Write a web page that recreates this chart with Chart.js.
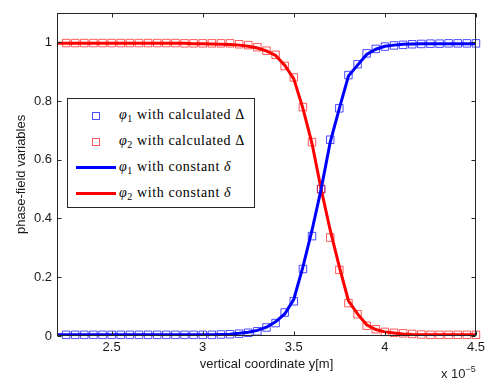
<!DOCTYPE html>
<html><head><meta charset="utf-8">
<script src="https://cdn.jsdelivr.net/npm/chart.js@4"></script>
<style>
html,body{margin:0;padding:0;background:#fff;}
#wrap{position:relative;width:489px;height:388px;overflow:hidden;}
canvas{display:block;}
.leg{position:absolute;left:67px;top:98px;width:186px;height:108px;border:1px solid #262626;background:#fff;font-family:'Liberation Serif','DejaVu Serif',serif;font-size:14px;letter-spacing:0.6px;color:#000;}
.row{position:absolute;left:0;height:20px;line-height:20px;white-space:nowrap;}
.sw{position:absolute;left:8px;width:40px;height:20px;}
.txt{position:absolute;left:51px;top:-1px;}
.mk{position:absolute;left:16px;top:6px;width:8px;height:8px;box-sizing:border-box;}
.ln{position:absolute;left:0;top:8px;width:40px;height:3px;}
i{font-style:italic;}
sub{font-size:10px;vertical-align:-3px;line-height:0;}
.mult{position:absolute;left:441px;top:366px;font-family:'Liberation Sans',Arial,sans-serif;font-size:13px;color:#262626;white-space:nowrap;}
.mult sup{font-size:9px;vertical-align:6px;line-height:0;}
</style></head>
<body>
<div id="wrap">
<canvas id="c" width="489" height="388"></canvas>
<div class="leg">
 <div class="row" style="top:7px"><div class="sw"><div class="mk" style="border:1px solid #4d4dff"></div></div><div class="txt"><i>φ</i><sub>1</sub> with calculated Δ</div></div>
 <div class="row" style="top:33px"><div class="sw"><div class="mk" style="border:1px solid #ff5a5a"></div></div><div class="txt"><i>φ</i><sub>2</sub> with calculated Δ</div></div>
 <div class="row" style="top:59px"><div class="sw"><div class="ln" style="background:#0000ff"></div></div><div class="txt"><i>φ</i><sub>1</sub> with constant <i>δ</i></div></div>
 <div class="row" style="top:85px"><div class="sw"><div class="ln" style="background:#ff0000"></div></div><div class="txt"><i>φ</i><sub>2</sub> with constant <i>δ</i></div></div>
</div>
<div class="mult">x 10<sup>−5</sup></div>
</div>
<script>
// x positions in units of 1e-5 m
const xMarkers = [2.25,2.3,2.35,2.4,2.45,2.5,2.55,2.6,2.65,2.7,2.75,2.8,2.85,2.9,2.95,3.0,3.05,
  3.1,3.15,3.2,3.25,3.3,3.35,3.4,3.45,3.5,3.55,3.6,3.65,3.7,3.75,3.8,3.85,3.9,3.95,4.0,4.05,4.1,4.15,4.2,4.25,4.3,4.35,4.4,4.45,4.5];
const xLines = [2.2,2.25,2.3,2.35,2.4,2.45,2.5,2.55,2.6,2.65,2.7,2.75,2.8,2.85,2.9,2.95,3.0,3.05,
  3.1,3.15,3.2,3.25,3.3,3.35,3.4,3.45,3.5,3.55,3.6,3.65,3.7,3.75,3.8,3.85,3.9,3.95,4.0,4.05,4.1,4.15,4.2,4.25,4.3,4.35,4.4,4.45,4.5];

const phi1Calc = [0.004,0.004,0.004,0.004,0.004,0.004,0.004,0.004,0.004,0.004,0.004,0.004,0.004,0.004,0.004,0.004,0.004,
  0.005,0.006,0.008,0.011,0.016,0.029,0.044,0.080,0.118,0.228,0.340,0.500,0.668,0.775,0.888,0.925,0.962,0.977,0.985,0.989,0.991,0.993,0.994,0.995,0.995,0.996,0.996,0.996,0.996];
const phi2Calc = [0.997,0.997,0.997,0.997,0.997,0.997,0.997,0.997,0.997,0.997,0.997,0.997,0.997,0.996,0.996,0.996,0.996,
  0.996,0.996,0.993,0.990,0.983,0.971,0.957,0.919,0.880,0.779,0.660,0.500,0.335,0.225,0.112,0.074,0.035,0.023,0.014,0.011,0.009,0.007,0.005,0.004,0.004,0.004,0.004,0.004,0.004];
const phi1Const = [0.004,0.004,0.004,0.004,0.004,0.004,0.004,0.004,0.004,0.004,0.004,0.004,0.004,0.004,0.004,0.004,0.004,0.004,
  0.005,0.006,0.009,0.013,0.019,0.030,0.048,0.075,0.125,0.235,0.360,0.500,0.660,0.775,0.885,0.922,0.958,0.976,0.986,0.990,0.993,0.994,0.995,0.995,0.995,0.995,0.995,0.995,0.995];
const phi2Const = [0.996,0.996,0.996,0.996,0.996,0.996,0.996,0.996,0.996,0.996,0.996,0.996,0.996,0.996,
  0.996,0.995,0.995,0.994,0.993,0.992,0.990,0.986,0.980,0.970,0.955,0.922,0.875,0.775,0.655,0.500,0.360,0.235,0.120,0.075,0.038,0.022,0.014,0.010,0.007,0.005,0.004,0.004,0.004,0.004,0.004,0.004,0.004];

const xTicks = [2.5,3,3.5,4,4.5];
const yTicks = [0,0.2,0.4,0.6,0.8,1];
const xTitle = 'vertical coordinate y[m]';
const yTitle = 'phase-field variables';

const AXIS = '#262626';
const toPts = (xs, ys) => xs.map((x,i)=>({x:x, y:ys[i]}));

const frame = {
  id:'frame',
  afterDraw(chart){
    const {ctx, chartArea:a, scales:{x,y}} = chart;
    ctx.save();
    ctx.strokeStyle = AXIS; ctx.lineWidth = 1;
    const L = Math.round(a.left)+0.5, R = Math.round(a.right)-0.5, T = Math.round(a.top)+0.5, B = Math.round(a.bottom)-0.5;
    ctx.strokeRect(L, T, R-L, B-T);
    ctx.beginPath();
    const tl = 4;
    xTicks.forEach(v=>{ const px = Math.round(x.getPixelForValue(v))+0.5;
      ctx.moveTo(px,B); ctx.lineTo(px,B-tl); ctx.moveTo(px,T); ctx.lineTo(px,T+tl); });
    yTicks.forEach(v=>{ const py = Math.round(y.getPixelForValue(v))+0.5;
      ctx.moveTo(L,py); ctx.lineTo(L+tl,py); ctx.moveTo(R,py); ctx.lineTo(R-tl,py); });
    ctx.stroke();
    ctx.restore();
  }
};

const tickFont = {family:"'Liberation Sans', Arial, sans-serif", size:13};

new Chart(document.getElementById('c'), {
  type:'line',
  data:{ datasets:[
    {label:'phi1 calculated', data:toPts(xMarkers, phi1Calc), showLine:false, pointStyle:'rect', pointRadius:5.3, pointBorderWidth:1,
     pointBorderColor:'rgba(0,0,255,0.7)', pointBackgroundColor:'rgba(0,0,0,0)', borderColor:'rgba(0,0,255,0.7)', order:3, clip:false},
    {label:'phi2 calculated', data:toPts(xMarkers, phi2Calc), showLine:false, pointStyle:'rect', pointRadius:5.3, pointBorderWidth:1,
     pointBorderColor:'rgba(255,0,0,0.65)', pointBackgroundColor:'rgba(0,0,0,0)', borderColor:'rgba(255,0,0,0.65)', order:2, clip:false},
    {label:'phi1 constant', data:toPts(xLines, phi1Const), borderColor:'#0000ff', borderWidth:3, pointRadius:0, tension:0, order:0},
    {label:'phi2 constant', data:toPts(xLines, phi2Const), borderColor:'#ff0000', borderWidth:3, pointRadius:0, tension:0, order:1}
  ]},
  options:{
    responsive:false, animation:false, devicePixelRatio:1,
    layout:{padding:{top:2,right:10,left:0,bottom:0}},
    plugins:{legend:{display:false}, tooltip:{enabled:false}},
    scales:{
      x:{type:'linear', min:2.2, max:4.5,
        afterBuildTicks:s=>{ s.ticks = xTicks.map(v=>({value:v})); },
        afterFit:s=>{ s.height = 52; },
        grid:{display:false, drawTicks:false}, border:{display:false},
        ticks:{padding:4, font:tickFont, color:'#1a1a1a', maxRotation:0, autoSkip:false, callback:v=>String(v)},
        title:{display:true, text:xTitle, font:tickFont, color:'#1a1a1a', padding:{top:0,bottom:16}}
      },
      y:{min:0, max:1.1,
        afterBuildTicks:s=>{ s.ticks = yTicks.map(v=>({value:v})); },
        afterFit:s=>{ s.width = 57; },
        grid:{display:false, drawTicks:false}, border:{display:false},
        ticks:{padding:5, font:tickFont, color:'#1a1a1a', autoSkip:false, callback:v=>String(v)},
        title:{display:true, text:yTitle, font:tickFont, color:'#1a1a1a', padding:{top:14,bottom:0}}
      }
    }
  },
  plugins:[frame]
});
</script>
</body></html>
